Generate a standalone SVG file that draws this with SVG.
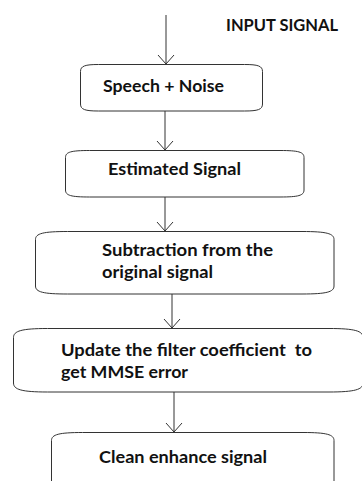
<svg xmlns="http://www.w3.org/2000/svg" width="362" height="481" viewBox="0 0 362 481">
<defs>
<marker id="arr" markerUnits="userSpaceOnUse" markerWidth="20" markerHeight="20" refX="0" refY="0" viewBox="-10 -10 20 20" orient="auto" overflow="visible">
<path d="M-9,-8 L0,0 L-9,8" fill="none" stroke="#333" stroke-width="1"/>
</marker>
<style>
.box{fill:#fff;stroke:#333;stroke-width:1}
.lbl{font-family:Lato,"Liberation Sans",sans-serif;font-weight:bold;font-size:17.8px;fill:#111;white-space:pre}
.con{fill:none;stroke:#333;stroke-width:1;marker-end:url(#arr)}
</style>
</defs>
<rect width="362" height="481" fill="#fff"/>
<g id="connectors">
<path class="con" d="M166,15 L166,64"/>
<path class="con" d="M165,111 L165,150"/>
<path class="con" d="M165,197 L165,231"/>
<path class="con" d="M172,294 L172,328"/>
<path class="con" d="M174,392 L174,432"/>
</g>
<g id="input-label">
<text class="lbl" x="226" y="31" textLength="112" lengthAdjust="spacingAndGlyphs">INPUT SIGNAL</text>
</g>
<g id="node-speech-noise">
<path class="box" d="M80.5,71.5 C80.5,66 85,64.5 98.5,64.5 L244.5,64.5 C258,64.5 262.5,66 262.5,71.5 L262.5,104 C262.5,109.5 258,111 244.5,111 L98.5,111 C85,111 80.5,109.5 80.5,104 Z"/>
<text class="lbl" x="103" y="92" textLength="121" lengthAdjust="spacingAndGlyphs">Speech + Noise</text>
</g>
<g id="node-estimated">
<path class="box" d="M65.5,157.5 C65.5,152 71,150.5 89.5,150.5 L280,150.5 C298.5,150.5 304,152 304,157.5 L304,190 C304,195.5 298.5,197 280,197 L89.5,197 C71,197 65.5,195.5 65.5,190 Z"/>
<text class="lbl" x="108" y="175" textLength="133" lengthAdjust="spacingAndGlyphs">Estimated Signal</text>
</g>
<g id="node-subtraction">
<path class="box" d="M35.5,239.5 C35.5,233.5 43,231.5 67.5,231.5 L302,231.5 C326.5,231.5 334,233.5 334,239.5 L334,286 C334,292 326.5,294 302,294 L67.5,294 C43,294 35.5,292 35.5,286 Z"/>
<text class="lbl" x="102" y="256" textLength="171" lengthAdjust="spacingAndGlyphs">Subtraction from the</text>
<text class="lbl" x="102" y="278" textLength="111" lengthAdjust="spacingAndGlyphs">original signal</text>
</g>
<g id="node-update">
<path class="box" d="M13.5,337.5 C13.5,331 21.5,328.5 47.5,328.5 L329,328.5 C355,328.5 363,331 363,337.5 L363,383 C363,389.5 355,392 329,392 L47.5,392 C21.5,392 13.5,389.5 13.5,383 Z"/>
<text class="lbl" x="61" y="356" textLength="251" lengthAdjust="spacingAndGlyphs" xml:space="preserve">Update the filter coefficient  to</text>
<text class="lbl" x="61" y="378" textLength="127" lengthAdjust="spacingAndGlyphs">get MMSE error</text>
</g>
<g id="node-clean">
<path class="box" d="M51.5,440.5 C51.5,434.5 59,432.5 82.5,432.5 L303,432.5 C326.5,432.5 334,434.5 334,440.5 L334,495 L51.5,495 Z"/>
<text class="lbl" x="99" y="463" textLength="168" lengthAdjust="spacingAndGlyphs">Clean enhance signal</text>
</g>
</svg>
